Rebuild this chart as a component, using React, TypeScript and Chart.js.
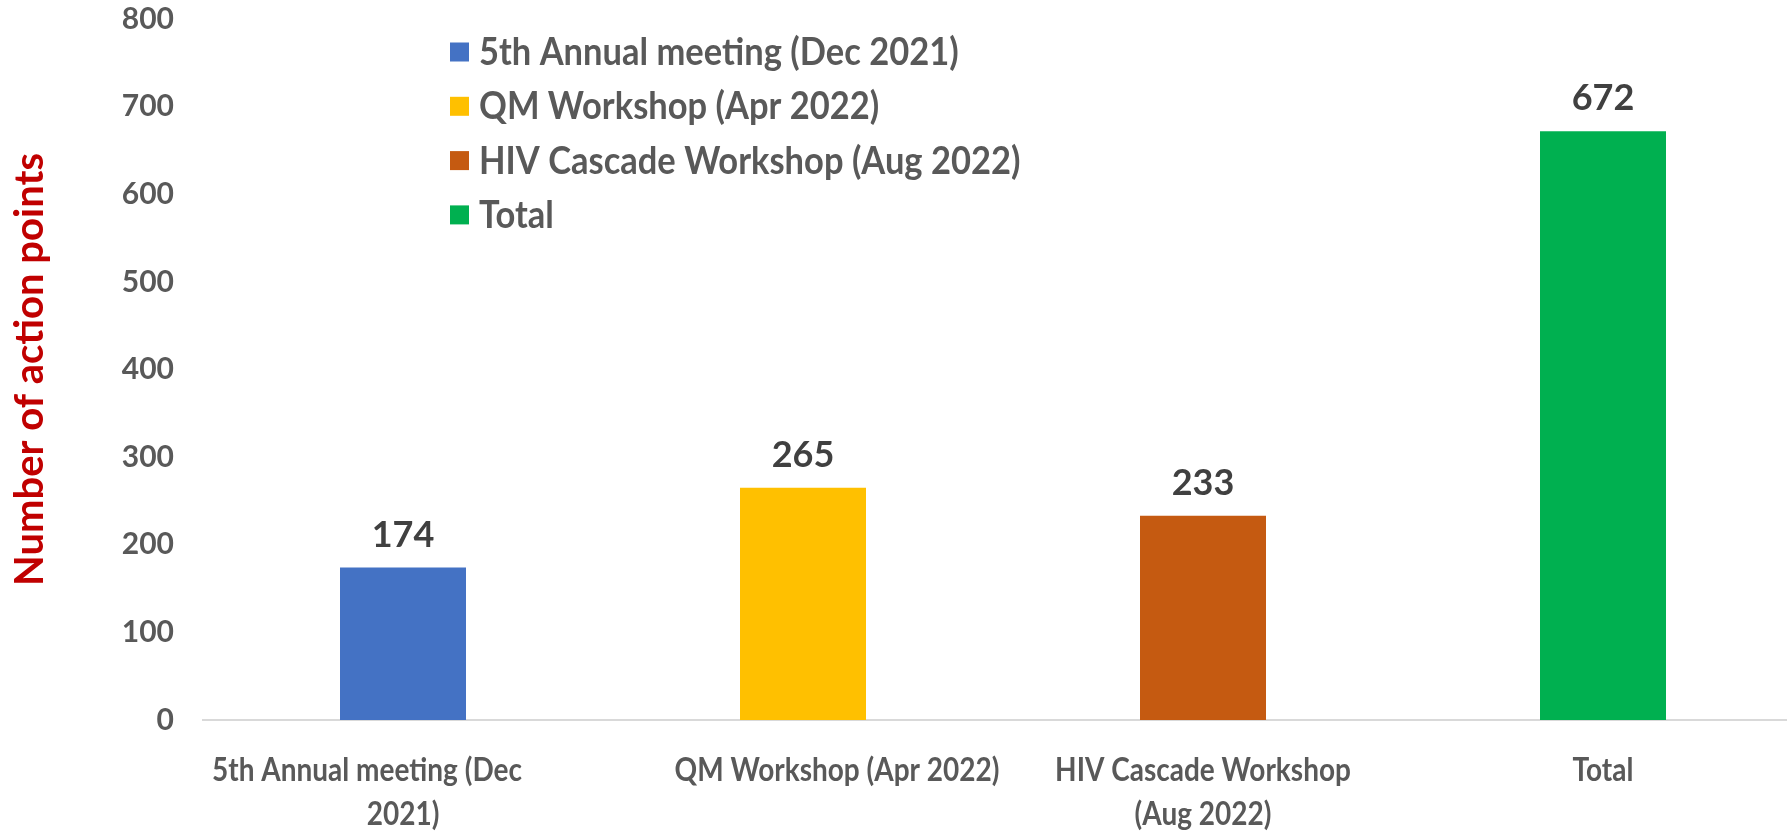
import React, { useEffect, useRef } from "react";
import { Chart, registerables } from "chart.js";

Chart.register(...registerables);

const categories: (string | string[])[] = [
  ["5th Annual meeting (Dec", "2021)"],
  "QM Workshop (Apr 2022)",
  ["HIV Cascade Workshop", "(Aug 2022)"],
  "Total",
];
const legendLabels = [
  "5th Annual meeting (Dec 2021)",
  "QM Workshop (Apr 2022)",
  "HIV Cascade Workshop (Aug 2022)",
  "Total",
];
const values = [174, 265, 233, 672];
const colors = ["#4472C4", "#FFC000", "#C55A11", "#00B050"];
const yMin = 0;
const yMax = 800;
const yStep = 100;
const yTitle = "Number of action points";

const FONT = "Lato";

// Excel-like horizontal nudges of the wrapped category label lines (style only)
const labelLineNudge: number[][] = [[-36, 0], [34], [0, 0], [0]];

const valueLabelPlugin = {
  id: "valueLabels",
  afterDatasetsDraw(chart: any) {
    const ctx = chart.ctx;
    const meta = chart.getDatasetMeta(0);
    ctx.save();
    ctx.font = `bold 36px ${FONT}`;
    ctx.fillStyle = "#404040";
    ctx.textAlign = "center";
    ctx.textBaseline = "alphabetic";
    meta.data.forEach((bar: any, i: number) => {
      ctx.fillText(String(values[i]), bar.x, bar.y - 21);
    });
    ctx.restore();
  },
};

const xLabelPlugin = {
  id: "xLabels",
  afterDraw(chart: any) {
    const ctx = chart.ctx;
    const xs = chart.scales.x;
    ctx.save();
    ctx.font = `bold 28px ${FONT}`;
    ctx.fillStyle = "#595959";
    ctx.textAlign = "center";
    ctx.textBaseline = "middle";
    const labels = chart.data.labels as (string | string[])[];
    labels.forEach((lab, i) => {
      const lines = Array.isArray(lab) ? lab : [lab];
      lines.forEach((line, j) => {
        const nudge = (labelLineNudge[i] && labelLineNudge[i][j]) || 0;
        ctx.save();
        ctx.translate(xs.getPixelForTick(i) + nudge, xs.top + 51 + j * 44);
        ctx.scale(1, 1.13);
        ctx.fillText(line, 0, 0);
        ctx.restore();
      });
    });
    ctx.restore();
  },
};

const legendPlugin = {
  id: "insideLegend",
  afterDraw(chart: any) {
    const ctx = chart.ctx;
    ctx.save();
    ctx.font = `bold 34.5px ${FONT}`;
    ctx.textAlign = "left";
    ctx.textBaseline = "middle";
    legendLabels.forEach((label, i) => {
      const cy = 52 + i * 54.3;
      ctx.fillStyle = colors[i];
      ctx.fillRect(450, cy - 9.5, 19, 19);
      ctx.fillStyle = "#595959";
      ctx.save();
      ctx.translate(479, cy + 1);
      ctx.scale(1, 1.08);
      ctx.fillText(label, 0, 0);
      ctx.restore();
    });
    ctx.restore();
  },
};

export default function App() {
  const ref = useRef<HTMLCanvasElement | null>(null);

  useEffect(() => {
    let chart: Chart | null = null;
    let cancelled = false;
    const make = () => {
      if (cancelled || !ref.current) return;
      chart = new Chart(ref.current, {
        type: "bar",
        data: {
          labels: categories as any,
          datasets: [
            {
              data: values,
              backgroundColor: colors,
              barPercentage: 0.315,
              categoryPercentage: 1,
            },
          ],
        },
        options: {
          responsive: false,
          animation: false,
          devicePixelRatio: 1,
          layout: { padding: { top: 19, right: 17, left: 0, bottom: 0 } },
          plugins: { legend: { display: false }, tooltip: { enabled: false } },
          scales: {
            x: {
              grid: { display: false, drawTicks: false },
              border: { display: true, color: "#D9D9D9", width: 2 },
              ticks: { display: false },
              afterFit: (s: any) => {
                s.height = 114;
                s.paddingLeft = 0;
                s.paddingRight = 0;
              },
            },
            y: {
              min: yMin,
              max: yMax,
              ticks: {
                stepSize: yStep,
                padding: 29,
                color: "#595959",
                font: { family: FONT, weight: "bold", size: 30 },
              },
              grid: { display: false, drawTicks: false },
              border: { display: false },
              title: {
                display: true,
                text: yTitle,
                color: "#C00000",
                font: { family: FONT, weight: "bold", size: 40 },
                padding: { top: 6, bottom: 0 },
              },
              afterFit: (s: any) => {
                s.width = 203;
                s.paddingTop = 0;
                s.paddingBottom = 0;
              },
            },
          },
        },
        plugins: [valueLabelPlugin, xLabelPlugin, legendPlugin],
      });
    };
    const fonts = (document as any).fonts;
    if (fonts && fonts.load) {
      Promise.all([fonts.load(`bold 30px ${FONT}`), fonts.load(`30px ${FONT}`)])
        .catch(() => null)
        .then(make);
    } else {
      make();
    }
    return () => {
      cancelled = true;
      if (chart) chart.destroy();
    };
  }, []);

  return (
    <div
      style={{
        position: "absolute",
        left: 0,
        top: 0,
        width: 1787,
        height: 834,
        overflow: "hidden",
        background: "#fff",
      }}
    >
      <canvas ref={ref} width={1820} height={834} style={{ width: 1820, height: 834, display: "block" }} />
    </div>
  );
}
